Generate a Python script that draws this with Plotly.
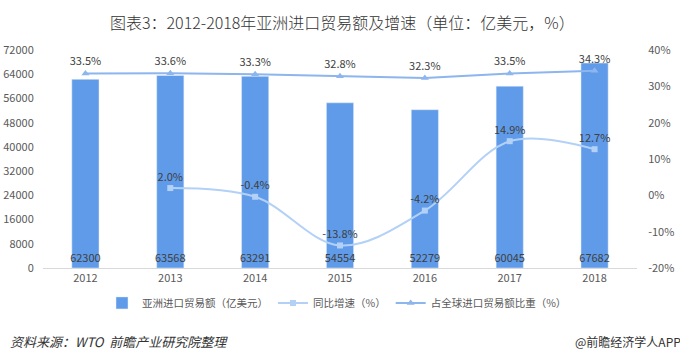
import plotly.graph_objects as go

years = ["2012", "2013", "2014", "2015", "2016", "2017", "2018"]
imports = [62300, 63568, 63291, 54554, 52279, 60045, 67682]
growth = [None, 2.0, -0.4, -13.8, -4.2, 14.9, 12.7]
share = [33.5, 33.6, 33.3, 32.8, 32.3, 33.5, 34.3]
left_ticks = [0, 8000, 16000, 24000, 32000, 40000, 48000, 56000, 64000, 72000]
right_ticks = [-20, -10, 0, 10, 20, 30, 40]

FONT = "Noto Sans CJK SC"
TXT = "#404040"
TICK = "#595959"

fig = go.Figure()
fig.add_trace(go.Bar(
    x=years, y=imports, name="亚洲进口贸易额（亿美元）",
    marker=dict(color="#5f9be8"), width=0.32,
    text=[str(v) for v in imports], textposition="inside",
    insidetextanchor="start", textangle=0, constraintext="none",
    textfont=dict(color=TXT, size=11, family=FONT),
    cliponaxis=False, yaxis="y"))
fig.add_trace(go.Scatter(
    x=years, y=growth, name="同比增速（%）", mode="lines+markers+text",
    line=dict(color="#b3d1f7", width=2, shape="spline", smoothing=1.0),
    marker=dict(symbol="square", size=6, color="#b3d1f7"),
    text=[("" if v is None else f"{v:.1f}%") for v in growth],
    textposition="top center",
    textfont=dict(color=TXT, size=11, family=FONT),
    connectgaps=False, cliponaxis=False, yaxis="y2"))
fig.add_trace(go.Scatter(
    x=years, y=share, name="占全球进口贸易额比重（%）", mode="lines+markers+text",
    line=dict(color="#8db5ee", width=2),
    marker=dict(symbol="triangle-up", size=7, color="#8db5ee"),
    text=[f"{v:.1f}%" for v in share], textposition="top center",
    textfont=dict(color=TXT, size=11, family=FONT),
    cliponaxis=False, yaxis="y2"))

fig.update_layout(
    width=680, height=356,
    margin=dict(l=43, r=43, t=50, b=88, autoexpand=False),
    paper_bgcolor="white", plot_bgcolor="white",
    font=dict(family=FONT, color=TXT, size=11),
    showlegend=True,
    legend=dict(orientation="h", x=(337 - 43) / 594, xanchor="center", y=-0.16, yanchor="middle",
                font=dict(size=10.5, color=TICK), itemwidth=30,
                bgcolor="rgba(0,0,0,0)"),
    xaxis=dict(type="category", showgrid=False, showline=True, linecolor="#d9d9d9",
               ticks="", tickfont=dict(size=11, color=TICK), automargin=False),
    yaxis=dict(range=[0, 72000], tickvals=left_ticks, ticktext=[str(v) for v in left_ticks],
               showgrid=False, zeroline=False, automargin=False,
               ticks="outside", ticklen=6, tickcolor="rgba(0,0,0,0)",
               showline=False, tickfont=dict(size=11, color=TICK)),
    yaxis2=dict(range=[-20, 40], tickvals=right_ticks, ticktext=[f"{v}%" for v in right_ticks],
                overlaying="y", automargin=False,
                ticks="outside", ticklen=8, tickcolor="rgba(0,0,0,0)",
                side="right", showgrid=False, zeroline=False, showline=False,
                tickfont=dict(size=11, color=TICK)),
)

fig.add_annotation(text="图表3：2012-2018年亚洲进口贸易额及增速（单位：亿美元，%）",
                   xref="paper", yref="paper", x=(342 - 43) / 594, y=(268 - 22) / 218,
                   showarrow=False, font=dict(size=16, color="#333333", family=FONT, weight=300),
                   xanchor="center", yanchor="middle")
fig.add_annotation(text="<i>资料来源：WTO  前瞻产业研究院整理</i>",
                   xref="paper", yref="paper", x=(8 - 43) / 594, y=(268 - 341) / 218,
                   showarrow=False, font=dict(size=13, color="#333333", family=FONT),
                   xanchor="left", yanchor="middle")
fig.add_annotation(text="@前瞻经济学人APP",
                   xref="paper", yref="paper", x=(573 - 43) / 594, y=(268 - 341) / 218,
                   showarrow=False, font=dict(size=12, color="#333333", family=FONT),
                   xanchor="left", yanchor="middle")

fig.write_html("out.html", config={"displayModeBar": False},
               post_script="document.body.style.margin='0';")
